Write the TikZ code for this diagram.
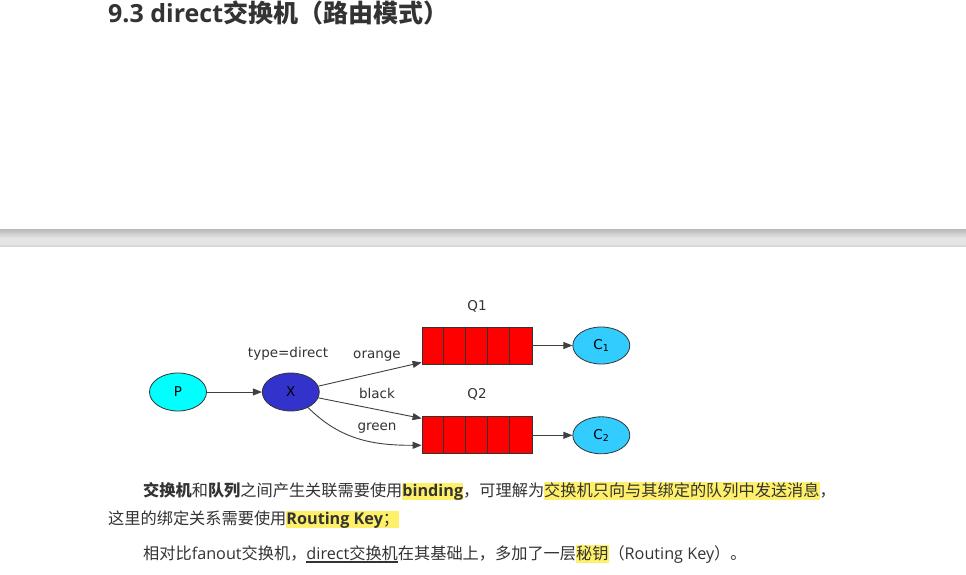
\documentclass[tikz,border=0pt]{standalone}
\usepackage{fontspec}
\setmainfont{Open Sans}
\newfontfamily\cjk{Noto Sans CJK SC}
\newfontfamily\diag{DejaVu Sans}
\usetikzlibrary{positioning,arrows.meta,shapes.geometric}
\definecolor{Ink}{HTML}{333333}
\definecolor{Mark}{HTML}{FFF06A}
\definecolor{ProdCyan}{HTML}{00FFFF}
\definecolor{ExchBlue}{HTML}{3333CC}
\definecolor{ConsBlue}{HTML}{33CCFF}
\definecolor{QueueRed}{HTML}{FF0000}
\definecolor{Edge}{HTML}{404040}
\newcommand\marktext[1]{{\setlength{\fboxsep}{0pt}\colorbox{Mark}{\rule[-4pt]{0pt}{17pt}#1}}}
\newcommand\linedtext[1]{\setbox0\hbox{#1}\rlap{\rule[-3.5pt]{\wd0}{1.2pt}}\box0}

\begin{document}
\begin{tikzpicture}[x=1pt, y=-1pt, every node/.style={inner sep=0pt}]
        \tikzstyle{ellip}=[ellipse, draw=Ink, line width=0.8pt, minimum width=57pt, minimum height=38pt, font=\diag\fontsize{13.5}{16}\selectfont]
        \tikzstyle{queue}=[rectangle, draw=Ink, fill=QueueRed, line width=0.8pt, minimum width=110pt, minimum height=37pt]
        \tikzstyle{tag}=[anchor=base, text=Ink, font=\diag\fontsize{13.5}{16}\selectfont]
        \tikzstyle{edge}=[draw=Edge, line width=0.9pt, -{Triangle[length=9pt,width=7pt]}]
        \tikzstyle{para}=[anchor=base west, text=Ink, font=\fontsize{16.2}{20}\selectfont]
        \useasboundingbox (0,0) rectangle (966,575);
        \fill[white] (0,0) rectangle (966,575);
        % heading
        \node[anchor=base west, text=Ink, font=\fontsize{25}{30}\selectfont\bfseries] (title) at (108,23) {9.3 direct{\cjk 交换机（路由模式）}};
        % grey band
        \shade[top color=black!28, bottom color=black!10] (0,229) rectangle (966,238);
        \fill[black!10] (0,238) rectangle (966,245);
        \fill[black!15] (0,245) rectangle (966,247);
        % routing diagram
        \node[ellip, fill=ProdCyan] (p) at (178,392) {P};
        \node[ellip, fill=ExchBlue, right=55pt of p] (x) {X};
        \node[queue] (q1) at (477,345.5) {};
        \node[queue, below=52pt of q1] (q2) {};
        \foreach \q in {q1,q2}
          \foreach \i in {1,...,4}
            \draw[Ink, line width=0.8pt] ([xshift={22pt*\i}]\q.north west) -- ([xshift={22pt*\i}]\q.south west);
        \node[ellip, fill=ConsBlue, minimum height=37pt, right=40pt of q1] (c1) {C\textsubscript{1}};
        \node[ellip, fill=ConsBlue, minimum height=37pt, right=40pt of q2] (c2) {C\textsubscript{2}};
        \node[tag] (q1lbl) at (477,310) {Q1};
        \node[tag] (q2lbl) at (477,398) {Q2};
        \node[tag] (typelbl) at (288,357) {type=direct};
        \node[tag] (orangelbl) at (377,358) {orange};
        \node[tag] (blacklbl) at (377,398) {black};
        \node[tag] (greenlbl) at (377,430) {green};
        \draw[edge] (p) -- (x);
        \draw[edge] (x.12) -- ([yshift=2pt]q1.south west);
        \draw[edge] (x.-12) -- ([yshift=-2pt]q2.north west);
        \draw[edge] (x.-42) to[out=-45, in=180] ([yshift=-10pt]q2.west);
        \draw[edge] (q1) -- (c1);
        \draw[edge] (q2) -- (c2);
        % text below
        \node[para] (line1) at (143,496) {{\cjk\bfseries 交换机}{\cjk 和}{\cjk\bfseries 队列}{\cjk 之间产生关联需要使用}\marktext{\bfseries binding}{\cjk ，可理解为}\marktext{\cjk 交换机只向与其绑定的队列中发送消息}{\cjk ，}};
        \node[para] (line2) at (108,524) {{\cjk 这里的绑定关系需要使用}\marktext{\bfseries Routing Key{\cjk\mdseries ；}}};
        \node[para] (line3) at (143,559) {{\cjk 相对比}fanout{\cjk 交换机，}\linedtext{direct{\cjk 交换机}}{\cjk 在其基础上，多加了一层}\marktext{\cjk 秘钥}{\cjk （}Routing Key{\cjk ）。}};
      \end{tikzpicture}
\end{document}
